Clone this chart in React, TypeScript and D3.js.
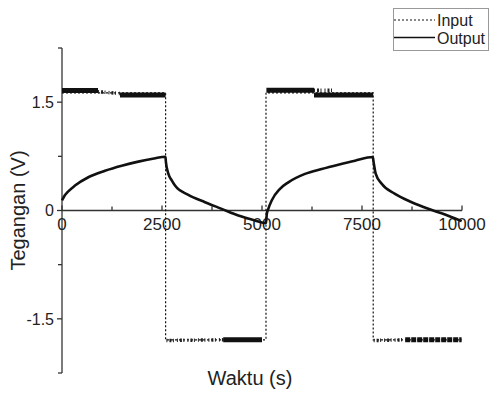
import React from 'react';
import * as d3 from 'd3';

// switching times of the square input (s) and the level held after each switch (V)
const inputSwitch = [0, 2590, 5100, 7780, 9990];
const inputLevel = [1.63, -1.79, 1.63, -1.79];

// noisy input readings: dense bands and sparse stretches [t, V]
const inputDense = [
    [[0, 1.66], [900, 1.66]],
    [[1450, 1.6], [2590, 1.6]],
    [[4030, -1.79], [5000, -1.79]],
    [[5110, 1.665], [6300, 1.665]],
    [[6300, 1.6], [7780, 1.6]],
    [[8580, -1.79], [9990, -1.79]]
];
const inputSparse = [
    [[900, 1.645], [1450, 1.62]],
    [[2610, -1.8], [4030, -1.79]],
    [[6300, 1.665], [6800, 1.665]],
    [[7790, -1.8], [8580, -1.79]]
];

const outputTime = [0, 60, 150, 325, 658, 1075, 1492, 1908, 2300, 2585, 2598, 2658, 2740, 2825, 3158, 3575, 3992, 4408, 4825, 5100,
    5120, 5158, 5242, 5450, 5658, 6075, 6492, 6908, 7325, 7770, 7790, 7842, 7992, 8325, 8742, 9158, 9575, 9992];
const outputVolt = [0.14, 0.2, 0.26, 0.345, 0.46, 0.55, 0.62, 0.677, 0.72, 0.745, 0.67, 0.51, 0.42, 0.345, 0.216, 0.115, 0.023, -0.07, -0.138, -0.175,
    -0.05, 0.023, 0.138, 0.3, 0.39, 0.507, 0.575, 0.635, 0.69, 0.74, 0.67, 0.51, 0.37, 0.23, 0.115, 0.023, -0.055, -0.147];

const xTicks = d3.range(0, 10001, 1250);
const xLabels = [0, 2500, 5000, 7500, 10000];
const yTicks = [-2.25, -1.5, -0.75, 0, 0.75, 1.5, 2.25];
const yLabels = [-1.5, 0, 1.5];

const font = 'Liberation Sans, Arial, sans-serif';

export default function App() {
    let w = 489, h = 394;

    let x = d3.scaleLinear().domain([0, 10000]).range([62, 462]);
    let y = d3.scaleLinear().domain([-2.25, 2.25]).range([373, 48]);

    let line = d3.line<number[]>()
        .x(d => x(d[0]))
        .y(d => y(d[1]));

    let inputPts = inputSwitch.map((t, i) => [t, inputLevel[Math.min(i, inputLevel.length - 1)]]);
    let stepLine = d3.line<number[]>().x(d => x(d[0])).y(d => y(d[1])).curve(d3.curveStepAfter);

    let outPts = outputTime.map((t, i) => [t, outputVolt[i]]);
    let outLine = d3.line<number[]>().x(d => x(d[0])).y(d => y(d[1])).curve(d3.curveMonotoneX);

    let y0 = y(0);

    return (
        <svg width={w} height={h} style={{ position: 'absolute', left: 0, top: 0 }} fontFamily={font}>
            <rect width={w} height={h} fill="#fff" />

            {/* y axis */}
            <line x1={x(0)} x2={x(0)} y1={y(2.25)} y2={y(-2.25)} stroke="#333" strokeWidth={1.3} />
            {yTicks.map(v => (
                <line key={v} x1={x(0) - (yLabels.includes(v) ? 5 : 4)} x2={x(0)} y1={y(v)} y2={y(v)} stroke="#333" strokeWidth={1.3} />
            ))}
            {yLabels.map(v => (
                <text key={v} x={x(0) - 8} y={y(v)} dy="0.36em" textAnchor="end" fontSize={16} fill="#222">
                    {v === 0 ? '0' : v.toFixed(1)}
                </text>
            ))}

            {/* x axis */}
            <line x1={x(0)} x2={x(10000)} y1={y0} y2={y0} stroke="#333" strokeWidth={1.3} />
            {xTicks.map(t => (
                <line key={t} x1={x(t)} x2={x(t)} y1={y0} y2={y0 - (xLabels.includes(t) ? 5 : 4)} stroke="#333" strokeWidth={1.3} />
            ))}
            {xLabels.map(t => (
                <text key={t} x={x(t)} y={y0 + 19} textAnchor="middle" fontSize={17} fill="#222">{t}</text>
            ))}

            {/* input */}
            <path d={stepLine(inputPts) || ''} fill="none" stroke="#111" strokeWidth={1.2} strokeDasharray="2,2" />
            {inputSparse.map((s, i) => (
                <path key={i} d={line(s) || ''} fill="none" stroke="#222" strokeWidth={3.5} strokeDasharray="1,2,2,1.5,1,3" />
            ))}
            {inputDense.map((s, i) => (
                <path key={i} d={line(s) || ''} fill="none" stroke="#111" strokeWidth={5} strokeDasharray={i === 5 ? '5,1' : undefined} />
            ))}

            {/* output */}
            <path d={outLine(outPts) || ''} fill="none" stroke="#111" strokeWidth={2.6} strokeLinejoin="round" />

            {/* axis titles */}
            <text x={250} y={385} textAnchor="middle" fontSize={20} fill="#222">Waktu (s)</text>
            <text transform={`translate(25,${y0}) rotate(-90)`} textAnchor="middle" fontSize={20} fill="#222">Tegangan (V)</text>

            {/* legend */}
            <rect x={393.5} y={8.5} width={95} height={42} fill="#fff" stroke="#999" />
            <line x1={394} x2={435} y1={20} y2={20} stroke="#111" strokeWidth={1.2} strokeDasharray="2,2" />
            <text x={437} y={26} fontSize={16} fill="#222">Input</text>
            <line x1={394} x2={435} y1={37.5} y2={37.5} stroke="#111" strokeWidth={1.3} />
            <text x={437} y={44} fontSize={16} fill="#222">Output</text>
        </svg>
    );
}
